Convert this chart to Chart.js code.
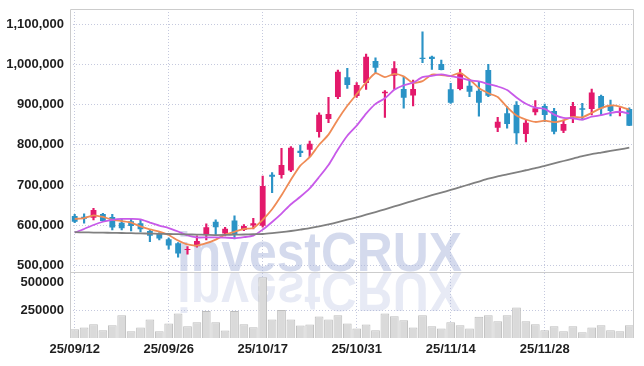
<!DOCTYPE html>
<html lang="en">
<head>
<meta charset="UTF-8">
<title>investCRUX price chart</title>
<script src="https://cdn.jsdelivr.net/npm/chart.js@4"></script>
<style>
  body { margin: 0; background: #fff; }
  #wrap { width: 644px; height: 366px; }
</style>
</head>
<body>
<div id="wrap"><canvas id="priceChart" width="644" height="366"></canvas></div>
<script>
// trading days (yy/mm/dd)
const dates = [
  '25/09/12', '25/09/15', '25/09/16', '25/09/17', '25/09/18', '25/09/19', '25/09/22', '25/09/23', '25/09/24', '25/09/25',
  '25/09/26', '25/09/29', '25/09/30', '25/10/01', '25/10/02', '25/10/10', '25/10/13', '25/10/14', '25/10/15', '25/10/16',
  '25/10/17', '25/10/20', '25/10/21', '25/10/22', '25/10/23', '25/10/24', '25/10/27', '25/10/28', '25/10/29', '25/10/30',
  '25/10/31', '25/11/03', '25/11/04', '25/11/05', '25/11/06', '25/11/07', '25/11/10', '25/11/11', '25/11/12', '25/11/13',
  '25/11/14', '25/11/17', '25/11/18', '25/11/19', '25/11/20', '25/11/21', '25/11/24', '25/11/25', '25/11/26', '25/11/27',
  '25/11/28', '25/12/01', '25/12/02', '25/12/03', '25/12/04', '25/12/05', '25/12/08', '25/12/09', '25/12/10', '25/12/11'
];

const opens = [
  623500, 621700, 619200, 628400, 621000, 606800, 610300, 605300, 586200, 580500,
  565600, 555700, 538500, 548200, 578700, 609300, 579500, 611800, 588700, 599400,
  599000, 726000, 725300, 736500, 785700, 788200, 832100, 864500, 919100, 968000,
  921600, 953900, 1008500, 928300, 972000, 938900, 922500, 1016700, 1019200, 1001000,
  938200, 939000, 947100, 934800, 986100, 842800, 878700, 899200, 827200, 881000,
  896700, 884300, 835300, 870200, 891000, 889300, 921600, 898400, 880100, 889300
];
const highs = [
  627700, 628400, 642600, 630200, 627700, 617700, 617700, 615300, 588700, 582000,
  568100, 557100, 547200, 573800, 603600, 613500, 595400, 623500, 601800, 617700,
  722800, 731000, 791600, 795600, 799800, 809700, 880000, 918300, 986100, 990300,
  954700, 1025900, 1016700, 934800, 1006800, 968000, 961300, 1081300, 1021000, 1011000,
  953100, 987800, 961300, 957100, 1000300, 868600, 895000, 907500, 862000, 910000,
  901700, 891000, 862000, 905900, 903400, 939000, 924000, 911600, 892500, 892000
];
const lows = [
  606800, 605300, 613500, 609300, 588700, 588700, 586200, 583700, 559600, 563800,
  540700, 520900, 528300, 545700, 563800, 576300, 573800, 566300, 587000, 591200,
  595400, 681300, 717100, 733500, 770800, 770800, 819000, 855200, 914900, 940700,
  918300, 938200, 979500, 868600, 938200, 891000, 896700, 1004300, 987800, 986100,
  903400, 936400, 919900, 871700, 919800, 832900, 841300, 802300, 807300, 874400,
  857700, 827200, 830400, 855200, 862000, 874400, 874400, 871800, 871800, 847800
];
const closes = [
  609300, 616700, 638400, 611000, 594400, 592900, 598600, 590400, 574500, 567100,
  549700, 529800, 541500, 561400, 595400, 595400, 591900, 576300, 598600, 605300,
  698000, 721100, 750100, 793100, 780000, 803100, 875100, 876800, 981900, 948900,
  948900, 1019200, 991900, 932400, 990300, 917300, 938900, 1013400, 1013400, 986100,
  904900, 978000, 932200, 904900, 922300, 857700, 852000, 828900, 855200, 891000,
  874400, 832900, 852000, 896700, 887600, 930000, 891000, 884300, 884300, 847800
];

// moving averages
const ma5 = [
  616000, 618000, 625000, 621000, 614000, 610700, 607100, 597500, 590200, 584700,
  576100, 562300, 552500, 549900, 555600, 564700, 577100, 584100, 591500, 593500,
  614000, 639900, 674600, 713500, 748500, 769500, 800300, 825600, 863400, 897200,
  926300, 955100, 978200, 968300, 976500, 970200, 954200, 958500, 974700, 973800,
  971300, 979200, 962900, 941200, 928500, 919000, 893800, 873200, 863200, 857000,
  860300, 856500, 861100, 869400, 868700, 879800, 891500, 897900, 895400, 887500
];
const ma10 = [
  582000, 591000, 601000, 609000, 613500, 616000, 616000, 615000, 607000, 599300,
  593400, 584700, 575000, 570000, 570100, 570400, 569700, 568300, 570700, 574500,
  589400, 608500, 629400, 652500, 671000, 691800, 720100, 750100, 788500, 822800,
  847900, 877700, 901900, 915800, 936900, 948300, 954700, 968300, 971500, 975200,
  970800, 966700, 960700, 957900, 951100, 945200, 936500, 918000, 902200, 892700,
  889700, 875200, 867100, 866300, 862800, 870100, 874000, 879500, 882400, 878100
];
const ma60 = [
  583000, 582600, 582200, 581800, 581400, 581000, 580500, 580000, 579500, 579000,
  578500, 578000, 577500, 577000, 576500, 576000, 576300, 576800, 577300, 577900,
  578500, 580500, 583000, 586000, 589500, 593000, 597500, 602500, 608000, 614000,
  620000, 626500, 633000, 640000, 647000, 654000, 661000, 668000, 675000, 681500,
  688000, 695000, 702000, 709000, 716000, 722000, 727000, 732000, 737000, 742000,
  748000, 754000, 760000, 766000, 772000, 777000, 781000, 785000, 789000, 793000
];

const volumes = [
  78500, 94000, 124000, 69500, 114600, 205000, 60500, 94000, 166000, 60500,
  130000, 220000, 105600, 141700, 241000, 141700, 66800, 241000, 124000, 96600,
  545000, 166000, 250000, 166000, 112000, 121000, 193000, 166000, 205000, 130000,
  85000, 121000, 69500, 220000, 196000, 160000, 94000, 205000, 105600, 85000,
  141700, 114600, 85000, 190000, 205000, 150000, 205000, 274000, 150000, 124000,
  69500, 105600, 60500, 105600, 51000, 94000, 114600, 69500, 60500, 114600
];

const priceTicks = [500000, 600000, 700000, 800000, 900000, 1000000, 1100000];
const volumeTicks = [250000, 500000];
const dateTicks = ['25/09/12', '25/09/26', '25/10/17', '25/10/31', '25/11/14', '25/11/28'];

const UP = '#e3196b';
const DOWN = '#2b93c6';
const GRID = '#c5c9de';
const candleColors = closes.map((c, i) => c >= opens[i] ? UP : DOWN);

Chart.defaults.font.family = '"Liberation Sans", Arial, sans-serif';
Chart.defaults.font.size = 13;
Chart.defaults.font.weight = 'bold';
Chart.defaults.color = '#1e1e1e';

// faded logo and its reflection, under the marks
const watermark = {
  id: 'watermark',
  beforeDatasetsDraw(chart) {
    const { ctx, chartArea } = chart;
    const base = chart.scales.yv.top;
    const text = 'investCRUX';
    ctx.save();
    ctx.font = 'bold 56px "Liberation Sans", Arial, sans-serif';
    const sx = 285 / ctx.measureText(text).width;
    const left = chartArea.left + 107;

    ctx.save();
    ctx.translate(left, base - 1);
    ctx.scale(sx, 1);
    ctx.fillStyle = 'rgba(170, 181, 219, 0.5)';
    ctx.fillText(text, 0, 0);
    ctx.restore();

    ctx.save();
    ctx.beginPath();
    ctx.rect(chartArea.left, base, chartArea.width, chartArea.bottom - base);
    ctx.clip();
    ctx.translate(left, base + 1);
    ctx.scale(sx, -1);
    ctx.fillStyle = 'rgba(170, 181, 219, 0.28)';
    ctx.fillText(text, 0, 0);
    ctx.restore();
    ctx.restore();
  }
};

// box around the two panes
const frame = {
  id: 'frame',
  afterDraw(chart) {
    const { ctx, chartArea: a } = chart;
    const sep = Math.round(chart.scales.yv.top) + 0.5;
    ctx.save();
    ctx.strokeStyle = '#cccccc';
    ctx.lineWidth = 1;
    ctx.beginPath();
    ctx.moveTo(a.left + 0.5, a.bottom);
    ctx.lineTo(a.left + 0.5, a.top + 0.5);
    ctx.lineTo(a.right - 0.5, a.top + 0.5);
    ctx.lineTo(a.right - 0.5, a.bottom);
    ctx.moveTo(a.left, sep);
    ctx.lineTo(a.right, sep);
    ctx.stroke();
    ctx.restore();
  }
};

function fixY(scale) {
  scale.width = 70;
  scale.paddingTop = 0;
  scale.paddingBottom = 0;
}

const maLine = (data, color) => ({
  type: 'line',
  data: data,
  yAxisID: 'y',
  borderColor: color,
  borderWidth: 1.8,
  pointRadius: 0,
  tension: 0.2,
  order: 0
});

new Chart(document.getElementById('priceChart'), {
  type: 'bar',
  data: {
    labels: dates,
    datasets: [
      maLine(ma60, '#808080'),
      maLine(ma10, '#c85ae9'),
      maLine(ma5, '#ef8b55'),
      {
        // candle bodies
        data: opens.map((o, i) => [o, closes[i]]),
        yAxisID: 'y',
        backgroundColor: candleColors,
        grouped: false,
        barPercentage: 0.62,
        categoryPercentage: 1,
        order: 1
      },
      {
        // wicks
        data: lows.map((l, i) => [l, highs[i]]),
        yAxisID: 'y',
        backgroundColor: candleColors,
        grouped: false,
        barThickness: 1.5,
        order: 2
      },
      {
        data: volumes,
        yAxisID: 'yv',
        backgroundColor: '#dadada',
        borderColor: '#bdbdbd',
        borderWidth: 1,
        grouped: false,
        barPercentage: 0.93,
        categoryPercentage: 1,
        order: 3
      }
    ]
  },
  options: {
    responsive: false,
    animation: false,
    devicePixelRatio: 1,
    layout: { padding: { top: 9, right: 10, left: 0, bottom: 0 } },
    plugins: { legend: { display: false }, tooltip: { enabled: false } },
    scales: {
      x: {
        offset: true,
        grid: { offset: false, color: GRID, drawTicks: false },
        border: { display: false, dash: [1, 2] },
        ticks: { maxRotation: 0, autoSkip: false, padding: 4 },
        afterBuildTicks: scale => {
          scale.ticks = dateTicks.map(d => ({ value: dates.indexOf(d) }));
        },
        afterFit: scale => {
          scale.height = 28;
          scale.paddingLeft = 0;
          scale.paddingRight = 0;
        }
      },
      // volume pane listed first so the price pane ends up on top
      yv: {
        position: 'left',
        stack: 'panes',
        stackWeight: 1,
        min: 0,
        max: 590000,
        grid: {
          color: ctx => ctx.tick && ctx.tick.value === 250000 ? GRID : 'transparent',
          drawTicks: false
        },
        border: { display: false, dash: [1, 2] },
        ticks: { padding: 6, callback: v => String(v) },
        afterBuildTicks: scale => {
          scale.ticks = volumeTicks.map(v => ({ value: v }));
        },
        afterFit: fixY
      },
      y: {
        position: 'left',
        stack: 'panes',
        stackWeight: 4,
        min: 483600,
        max: 1137800,
        grid: { color: GRID, drawTicks: false },
        border: { display: false, dash: [1, 2] },
        ticks: { padding: 6, callback: v => v.toLocaleString('en-US') },
        afterBuildTicks: scale => {
          scale.ticks = priceTicks.map(v => ({ value: v }));
        },
        afterFit: fixY
      }
    }
  },
  plugins: [watermark, frame]
});
</script>
</body>
</html>
